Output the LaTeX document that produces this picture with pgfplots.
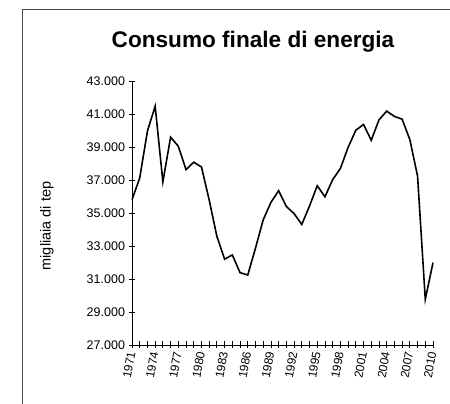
\documentclass[border=0pt]{standalone}
\usepackage{pgfplots}
\pgfplotsset{compat=1.18}
\usepackage{fontspec}
\setmainfont{Liberation Sans}
\begin{document}
\begin{tikzpicture}
\useasboundingbox (0pt,0pt) rectangle (450pt,404pt);
\draw[line width=0.8pt, black!70] (22.5pt,0pt) -- (22.5pt,394.3pt) -- (452pt,394.3pt);
\node[font=\bfseries\fontsize{22.6}{26}\selectfont, inner sep=0pt] at (253pt,362pt) {Consumo finale di energia};
\node[rotate=90, font=\fontsize{14.5}{16}\selectfont, inner sep=0pt] at (47pt,178pt) {migliaia di tep};
\begin{axis}[
  at={(132pt,59pt)}, anchor=south west,
  scale only axis, width=301pt, height=263.5pt,
  xmin=1971, xmax=2010, ymin=27000, ymax=43000,
  scaled y ticks=false, scaled x ticks=false,
  axis x line*=bottom, axis y line*=left,
  axis line style={line width=0.8pt, black},
  tick align=center, major tick length=7pt, minor tick length=7pt,
  tick style={line width=0.8pt, black},
  xtick={1971,1974,...,2010}, minor xtick={1971,...,2010},
  xticklabels={1971,1974,1977,1980,1983,1986,1989,1992,1995,1998,2001,2004,2007,2010},
  ytick={27000,29000,...,43000},
  yticklabels={27.000,29.000,31.000,33.000,35.000,37.000,39.000,41.000,43.000},
  xticklabel style={rotate=80, anchor=east, font=\fontsize{12}{14}\selectfont},
  yticklabel style={font=\fontsize{12.5}{14}\selectfont},
  clip=false,
]
\addplot[black, line width=1.6pt, mark=none] coordinates {
(1971,35820) (1972,37140) (1973,39990) (1974,41500) (1975,36910)
(1976,39620) (1977,39070) (1978,37650) (1979,38100) (1980,37810)
(1981,35810) (1982,33590) (1983,32210) (1984,32470) (1985,31390)
(1986,31250) (1987,32880) (1988,34600) (1989,35660) (1990,36370)
(1991,35410) (1992,34980) (1993,34320) (1994,35440) (1995,36670)
(1996,36000) (1997,37040) (1998,37720) (1999,39000) (2000,40040)
(2001,40390) (2002,39430) (2003,40670) (2004,41200) (2005,40880)
(2006,40710) (2007,39470) (2008,37260) (2009,29770) (2010,32000)
};
\end{axis}
\end{tikzpicture}
\end{document}
